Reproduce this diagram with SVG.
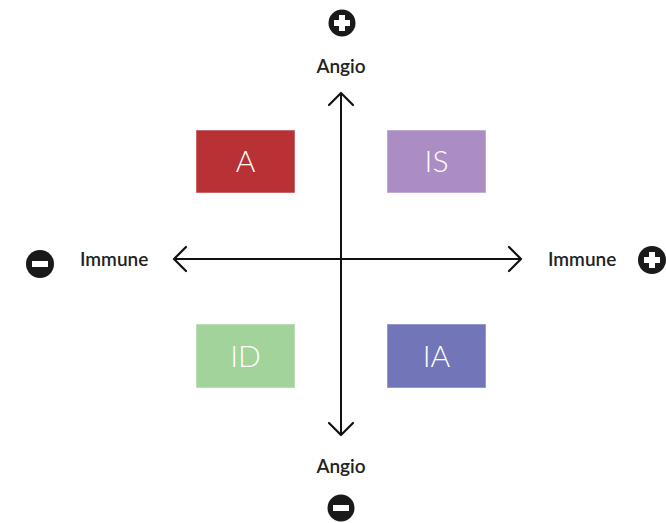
<svg xmlns="http://www.w3.org/2000/svg" width="666" height="523" viewBox="0 0 666 523">
<style>
.lbl{font-family:Lato,"Liberation Sans",sans-serif;font-weight:600;font-size:19px;fill:#222;}
.box{stroke:#ffffff;stroke-opacity:0.5;stroke-width:1;}
.bt{font-family:Lato,"Liberation Sans",sans-serif;font-weight:300;font-size:30px;fill:#fff;text-anchor:middle;}
.ax{stroke:#111;stroke-width:2;fill:none;}
.ah{stroke:#111;stroke-width:2.2;fill:none;stroke-linecap:round;stroke-linejoin:round;}
.sym{fill:#1a1a1a;}
.bar{fill:#fff;}
</style>
<rect width="666" height="523" fill="#fff"/>
<g id="connectors">
<line class="ax" x1="341" y1="94" x2="341" y2="434"/>
<line class="ax" x1="174" y1="259" x2="521" y2="259"/>
<polyline class="ah" points="329,105 341,93 353,105"/>
<polyline class="ah" points="329,423 341,435 353,423"/>
<polyline class="ah" points="186,247 174,259 186,271"/>
<polyline class="ah" points="509,247 521,259 509,271"/>
</g>
<g id="node-A"><rect class="box" x="196" y="130" width="99" height="63" fill="#b83235"/><text class="bt" x="245.5" y="172">A</text></g>
<g id="node-IS"><rect class="box" x="387" y="130" width="99" height="63" fill="#ab8dc4"/><text class="bt" x="436.5" y="172">IS</text></g>
<g id="node-ID"><rect class="box" x="196" y="324" width="99" height="64" fill="#a2d39b"/><text class="bt" x="245.5" y="367">ID</text></g>
<g id="node-IA"><rect class="box" x="387" y="324" width="99" height="64" fill="#7276b8"/><text class="bt" x="436.5" y="367">IA</text></g>
<g id="label-top"><circle class="sym" cx="342" cy="23" r="13.5"/><rect class="bar" x="334" y="20" width="16" height="6"/><rect class="bar" x="339" y="15" width="6" height="16"/><text class="lbl" x="341" y="73" text-anchor="middle">Angio</text></g>
<g id="label-bottom"><circle class="sym" cx="341" cy="508" r="13.5"/><rect class="bar" x="333" y="505" width="16" height="6"/><text class="lbl" x="341" y="473" text-anchor="middle">Angio</text></g>
<g id="label-left"><circle class="sym" cx="40" cy="264" r="14"/><rect class="bar" x="32" y="261" width="16" height="6"/><text class="lbl" x="80" y="266">Immune</text></g>
<g id="label-right"><circle class="sym" cx="652" cy="260" r="14"/><rect class="bar" x="644" y="257" width="16" height="6"/><rect class="bar" x="649" y="252" width="6" height="16"/><text class="lbl" x="548" y="266">Immune</text></g>
</svg>
